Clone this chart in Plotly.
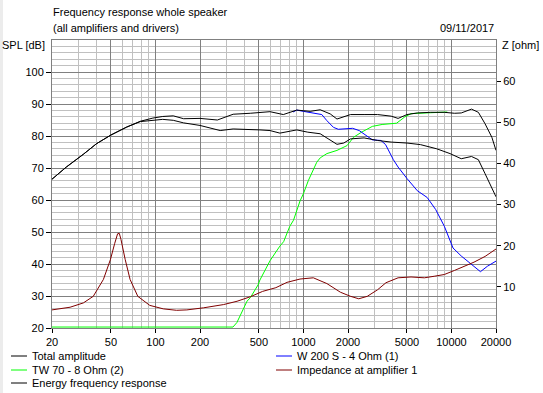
import math
import plotly.graph_objects as go

# ---------------- data ----------------
upper_f = [20, 25, 32.6, 40, 50, 64, 79, 96, 112, 132, 155, 200, 262, 335, 437,
           508, 594, 731, 901, 1000, 1109, 1297, 1517, 1685, 1872, 2080, 2568, 3170,
           3915, 4360, 5010, 5880, 7250, 8950, 10500, 11650, 13660, 15200, 16880,
           18750, 20000]
upper_db = [66.5, 70.3, 74.3, 77.6, 80.3, 82.8, 84.6, 85.6, 86.1, 86.3, 85.4, 85.5,
            85.0, 86.8, 87.1, 87.3, 87.6, 86.7, 88.1, 87.9, 87.7, 88.2, 86.9, 85.3,
            85.9, 86.7, 86.7, 86.7, 86.2, 85.5, 86.7, 87.2, 87.4, 87.4, 87.1, 87.2,
            88.4, 87.4, 83.8, 79.6, 75.5]

energy_f = [20, 25, 32.6, 40, 50, 64, 79, 96, 112, 132, 155, 200, 274, 335, 437,
            508, 594, 693, 901, 1070, 1297, 1517, 1685, 1872, 2080, 2568, 3170, 3915,
            5010, 6180, 7960, 9780, 11650, 13660, 15200, 16880, 18750, 20000]
energy_db = [66.5, 70.3, 74.3, 77.6, 80.3, 82.8, 84.5, 85.0, 85.2, 84.9, 84.1, 83.3,
             81.7, 82.2, 82.1, 81.9, 81.7, 80.9, 81.9, 81.2, 80.7, 78.8, 77.4, 77.8,
             79.1, 79.4, 78.6, 78.1, 77.8, 77.3, 76.0, 74.5, 72.9, 73.6, 72.6, 68.2,
             63.6, 61.0]

woofer_f = [850, 901, 1000, 1109, 1230, 1330, 1440, 1595, 1720, 1950, 2150, 2380,
            2640, 2920, 3340, 3590, 4050, 4360, 5010, 5880, 6850, 7830, 8950, 10250,
            11650, 13660, 15700, 17500, 20000]
woofer_db = [87.5, 88.1, 87.7, 87.3, 87.1, 86.7, 84.8, 82.7, 82.1, 82.2, 82.4, 81.7,
             80.2, 78.8, 78.6, 77.3, 72.6, 70.3, 66.7, 62.9, 60.8, 57.0, 51.8, 45.0,
             42.5, 39.9, 37.6, 39.3, 40.9]

tweeter_f = [20, 334, 355, 380, 416, 438, 494, 508, 594, 693, 735, 809, 857, 948,
             1000, 1080, 1230, 1300, 1440, 1685, 1970, 2180, 2470, 2920, 3400, 4260,
             4820, 5330, 6560, 8040, 9370]
tweeter_db = [20.3, 20.3, 21.7, 24.8, 28.4, 29.5, 33.5, 35.0, 41.0, 45.6, 47.0, 51.8,
              53.7, 59.7, 62.0, 66.1, 71.8, 73.2, 74.5, 75.5, 77.0, 79.6, 81.2, 83.0,
              83.6, 84.0, 85.9, 87.0, 87.2, 87.4, 87.5]

imp_f = [20, 26.5, 32.6, 38, 44.5, 49.6, 53, 55.5, 57, 58.5, 62.5, 67.4, 76, 91.5,
         113, 139, 163, 211, 289, 356, 438, 530, 651, 775, 948, 1166, 1440, 1777,
         2080, 2365, 2700, 3170, 3610, 4360, 5330, 6560, 7720, 8950, 10500, 12180,
         14200, 16880, 20000]
imp_ohm = [4.4, 5.05, 6.1, 7.7, 11.8, 16.6, 20.5, 22.9, 23.0, 21.5, 16.6, 11.8, 7.7,
           5.5, 4.65, 4.3, 4.4, 4.9, 5.7, 6.5, 7.6, 8.9, 9.8, 11.1, 11.9, 12.2, 10.8,
           8.7, 7.7, 7.1, 7.7, 9.3, 11.0, 12.2, 12.4, 12.2, 12.6, 13.0, 14.0, 14.9,
           16.0, 17.4, 19.2]

x_major = [20, 50, 100, 200, 500, 1000, 2000, 5000, 10000, 20000]
x_major_text = ["20", "50", "100", "200", "500", "1000", "2000", "5000", "10000", "20000"]
x_minor = [v for v in [m * 10 ** d for d in range(1, 5) for m in range(1, 10)]
           if 20 <= v <= 20000 and v not in x_major]
spl_ticks = [20, 30, 40, 50, 60, 70, 80, 90, 100]
z_ticks = [10, 20, 30, 40, 50, 60]

legend_items = [("Total amplitude", "#000000", 0, 0),
                ("W 200 S - 4 Ohm (1)", "#0000ff", 1, 0),
                ("TW 70 - 8 Ohm (2)", "#00ff00", 0, 1),
                ("Impedance at amplifier 1", "#800000", 1, 1),
                ("Energy frequency response", "#000000", 0, 2)]

# ---------------- layout geometry ----------------
W, H = 543, 393
L, R, T, B = 52, 47, 40, 65
PW, PH = W - L - R, H - T - B
FONT = "Liberation Sans, Arial, sans-serif"
FS = 11


def px(x):
    return (x - L) / PW


def py(y):
    return 1 - (y - T) / PH


fig = go.Figure()
fig.add_trace(go.Scatter(x=tweeter_f, y=tweeter_db, mode="lines",
                         line=dict(color="#00ff00", width=1), name="TW 70 - 8 Ohm (2)"))
fig.add_trace(go.Scatter(x=woofer_f, y=woofer_db, mode="lines",
                         line=dict(color="#0000ff", width=1), name="W 200 S - 4 Ohm (1)"))
fig.add_trace(go.Scatter(x=imp_f, y=imp_ohm, mode="lines", yaxis="y2",
                         line=dict(color="#800000", width=1), name="Impedance at amplifier 1"))
fig.add_trace(go.Scatter(x=energy_f, y=energy_db, mode="lines",
                         line=dict(color="#000000", width=1), name="Energy frequency response"))
fig.add_trace(go.Scatter(x=upper_f, y=upper_db, mode="lines",
                         line=dict(color="#000000", width=1), name="Total amplitude"))

tickfont = dict(family=FONT, size=FS, color="#000000")

fig.update_layout(
    width=W, height=H, autosize=False,
    margin=dict(l=L, r=R, t=T, b=B, pad=0),
    paper_bgcolor="#ffffff", plot_bgcolor="#ffffff",
    showlegend=False,
    font=dict(family=FONT, size=FS, color="#000000"),
    xaxis=dict(type="log", range=[math.log10(20), math.log10(20000)],
               tickmode="array", tickvals=x_major, ticktext=x_major_text,
               showgrid=True, gridcolor="#808080", gridwidth=1,
               minor=dict(tickmode="array", tickvals=x_minor, showgrid=True,
                          gridcolor="#c0c0c0", gridwidth=1, ticks=""),
               ticks="outside", ticklen=4, tickcolor="#000000", tickwidth=1,
               showline=True, linecolor="#808080", linewidth=1, mirror=True,
               zeroline=False, tickfont=tickfont, layer="below traces"),
    yaxis=dict(range=[20, 110], tickmode="array", tickvals=spl_ticks,
               showgrid=True, gridcolor="#808080", gridwidth=1,
               minor=dict(dtick=2, tick0=0, showgrid=True, gridcolor="#c0c0c0",
                          gridwidth=1, ticks=""),
               ticks="outside", ticklen=5, tickcolor="#000000", tickwidth=1,
               showline=True, linecolor="#808080", linewidth=1, mirror=True,
               zeroline=False, tickfont=tickfont, layer="below traces"),
    yaxis2=dict(range=[0, 70], overlaying="y", side="right", tickmode="array",
                tickvals=z_ticks, showgrid=False, zeroline=False,
                ticks="outside", ticklen=4, tickcolor="#000000", tickwidth=1,
                showline=False, tickfont=tickfont, layer="below traces"),
)

ann = []
ann.append(dict(text="Frequency response whole speaker", x=px(51), y=py(12),
                xanchor="left", yanchor="middle"))
ann.append(dict(text="(all amplifiers and drivers)", x=px(51), y=py(28.5),
                xanchor="left", yanchor="middle"))
ann.append(dict(text="09/11/2017", x=px(496), y=py(28.5), xanchor="right", yanchor="middle"))
ann.append(dict(text="SPL [dB]", x=px(47), y=py(44.5), xanchor="right", yanchor="middle"))
ann.append(dict(text="Z [ohm]", x=px(500), y=py(44.5), xanchor="left", yanchor="middle"))

shapes = []
col_x = [11, 276]
row_y = [356, 370, 383]
for label, color, c, r in legend_items:
    x0 = col_x[c]
    yy = row_y[r]
    shapes.append(dict(type="line", xref="paper", yref="paper",
                       x0=px(x0), x1=px(x0 + 16), y0=py(yy), y1=py(yy),
                       line=dict(color=color, width=1)))
    ann.append(dict(text=label, x=px(x0 + 19), y=py(yy), xanchor="left", yanchor="middle"))

# light window border strip on the left edge
shapes.append(dict(type="rect", xref="paper", yref="paper", x0=px(0), x1=px(3),
                   y0=py(H), y1=py(0), fillcolor="#ececec", line=dict(width=0),
                   layer="below"))

for a in ann:
    a.update(xref="paper", yref="paper", showarrow=False,
             font=dict(family=FONT, size=FS, color="#000000"))

fig.update_layout(annotations=ann, shapes=shapes)
fig.write_html("out.html",
               config={"displayModeBar": False},
               post_script="document.body.style.margin='0';"
                           "document.body.style.padding='0';"
                           "document.body.style.overflow='hidden';")
